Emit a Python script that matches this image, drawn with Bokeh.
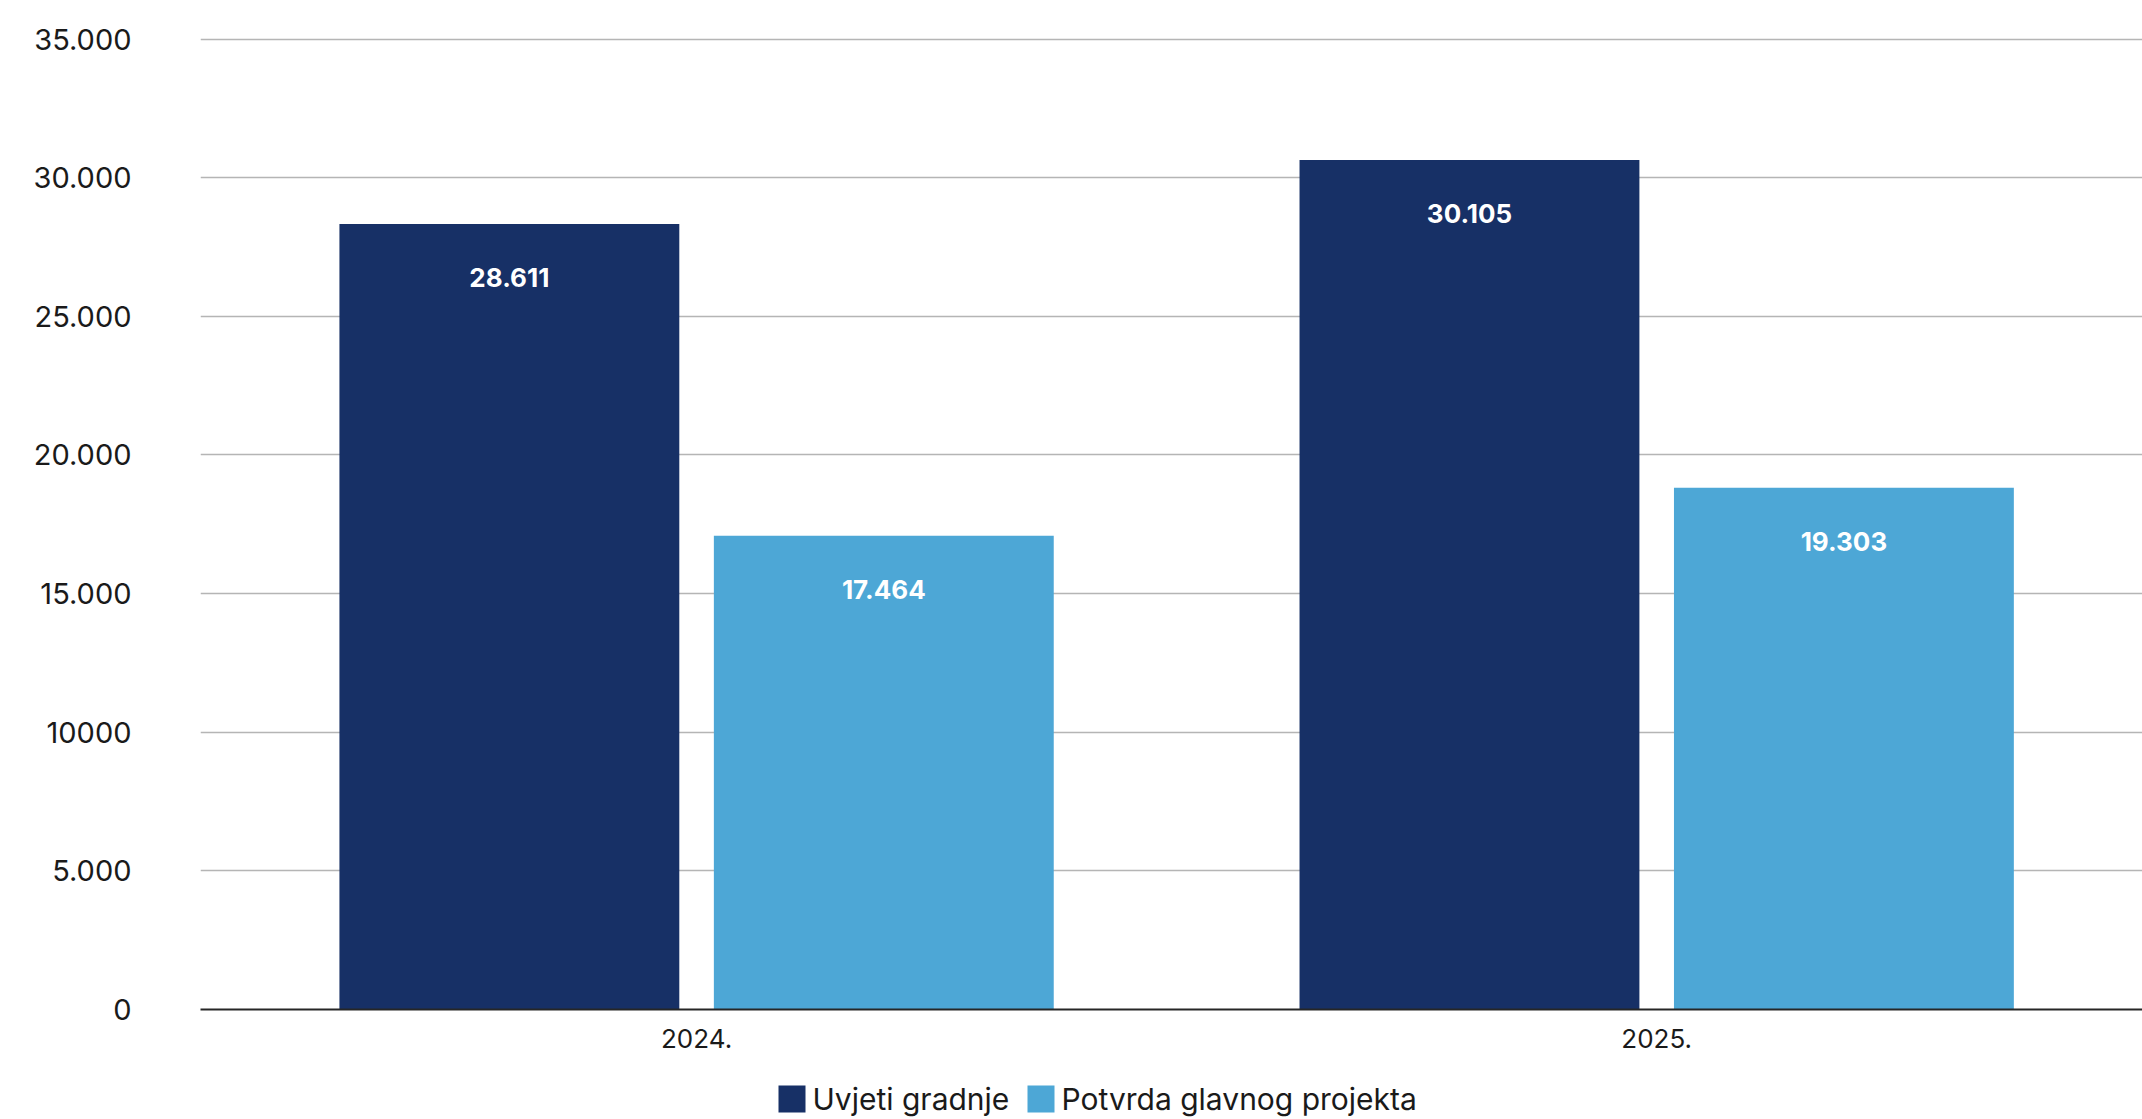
from bokeh.plotting import figure
from bokeh.layouts import column
from bokeh.models import ColumnDataSource, Range1d, FixedTicker
from bokeh.core.properties import value
from bokeh.embed import file_html
from bokeh.resources import INLINE

# ---- data ----
years = ["2024.", "2025."]
series_names = ["Uvjeti gradnje", "Potvrda glavnog projekta"]
# bar heights as drawn in the reference picture
uvjeti_heights = [28330, 30640]
potvrda_heights = [17090, 18820]
# value labels printed on the bars
uvjeti_labels = ["28.611", "30.105"]
potvrda_labels = ["17.464", "19.303"]
y_ticks = [0, 5000, 10000, 15000, 20000, 25000, 30000, 35000]
y_tick_labels = ["0", "5.000", "10000", "15.000", "20.000", "25.000", "30.000", "35.000"]

DARK = "#173066"
LIGHT = "#4da7d6"
FONT = "Inter"
TEXT = "#1a1a1a"

W = 2142
MAIN_H = 1075
LEG_H = 44
LEFT = 200

idx = list(range(len(years)))
offset = 0.195
bar_w = 0.354

src_u = ColumnDataSource(dict(x=[i - offset for i in idx], top=uvjeti_heights, label=uvjeti_labels))
src_p = ColumnDataSource(dict(x=[i + offset for i in idx], top=potvrda_heights, label=potvrda_labels))

p = figure(width=W, height=MAIN_H, output_backend="svg", toolbar_location=None,
           x_range=Range1d(-0.5167, 1.506), y_range=Range1d(0, 35200),
           min_border_left=LEFT, min_border_top=33, min_border_right=0, min_border_bottom=66)
p.outline_line_color = None
p.background_fill_color = "white"
p.border_fill_color = "white"

r_u = p.vbar(x="x", top="top", width=bar_w, source=src_u, fill_color=DARK, line_color=None)
r_p = p.vbar(x="x", top="top", width=bar_w, source=src_p, fill_color=LIGHT, line_color=None)

for src in (src_u, src_p):
    p.text(x="x", y="top", text="label", source=src, y_offset=54,
           text_align="center", text_baseline="middle", text_color="white",
           text_font=value(FONT), text_font_style="bold", text_font_size="26px")

# axes
p.xaxis.ticker = FixedTicker(ticks=idx)
p.xaxis.major_label_overrides = {i: y for i, y in zip(idx, years)}
p.xaxis.major_tick_line_color = None
p.xaxis.major_tick_out = 0
p.xaxis.minor_tick_line_color = None
p.xaxis.axis_line_color = "#262626"
p.xaxis.axis_line_width = 2
p.xaxis.major_label_text_font = FONT
p.xaxis.major_label_text_font_size = "26px"
p.xaxis.major_label_text_color = TEXT
p.xaxis.major_label_standoff = 19

p.yaxis.ticker = FixedTicker(ticks=y_ticks)
p.yaxis.major_label_overrides = {t: l for t, l in zip(y_ticks, y_tick_labels)}
p.yaxis.axis_line_color = None
p.yaxis.major_tick_line_color = None
p.yaxis.major_tick_out = 0
p.yaxis.minor_tick_line_color = None
p.yaxis.major_label_text_font = FONT
p.yaxis.major_label_text_font_size = "29px"
p.yaxis.major_label_text_color = TEXT
p.yaxis.major_label_standoff = 69

p.xgrid.grid_line_color = None
p.ygrid.grid_line_color = "#b5b5b5"
p.ygrid.grid_line_width = 1.5

# ---- legend strip below the chart (page-pixel units; frame aligned with main plot) ----
lg = figure(width=W, height=LEG_H, output_backend="svg", toolbar_location=None,
            x_range=Range1d(LEFT, W), y_range=Range1d(0, LEG_H),
            min_border=0, min_border_left=LEFT, x_axis_type=None, y_axis_type=None)
lg.outline_line_color = None
lg.xgrid.visible = False
lg.ygrid.visible = False

SW = 27                 # swatch size
swatch_left = [778, 1027]
text_gap = 7
row_y = LEG_H - 23.5
leg_src = ColumnDataSource(dict(
    x=[s + SW / 2 for s in swatch_left],
    tx=[s + SW + text_gap for s in swatch_left],
    y=[row_y] * 2,
    color=[DARK, LIGHT],
    label=series_names))
lg.rect(x="x", y="y", width=SW, height=SW, source=leg_src, fill_color="color", line_color=None)
lg.text(x="tx", y="y", text="label", source=leg_src, text_align="left", text_baseline="middle",
        text_font=value(FONT), text_font_size="30px", text_color=TEXT)

layout = column(p, lg, spacing=0)
open("out.html", "w").write(file_html(layout, INLINE))
